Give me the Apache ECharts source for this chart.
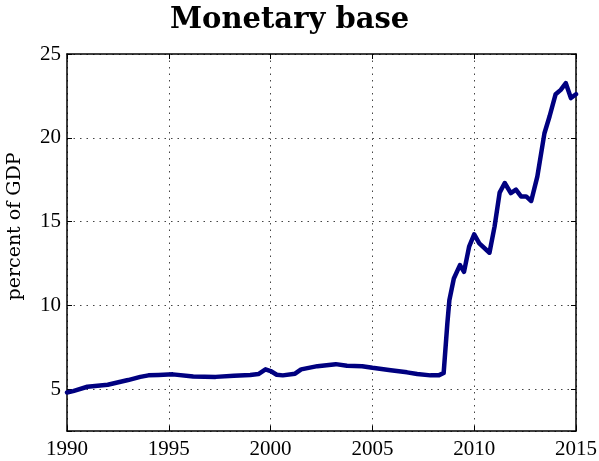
<!DOCTYPE html>
<html>
<head>
<meta charset="utf-8">
<script src="https://cdn.jsdelivr.net/npm/echarts@6/dist/echarts.min.js"></script>
<style>
  html, body { margin: 0; padding: 0; background: #fff; }
  #main { width: 599px; height: 461px; }
</style>
</head>
<body>
<div id="main"></div>
<script type="text/javascript">
// monetary base, percent of GDP
var years = [1990.0, 1990.3, 1991.0, 1992.0, 1993.0, 1993.6, 1994.0, 1994.5, 1995.2, 1996.2,
  1997.3, 1998.2, 1999.0, 1999.4, 1999.75, 2000.0, 2000.3, 2000.6, 2001.2, 2001.5,
  2002.3, 2003.2, 2003.75, 2004.5, 2005.0, 2005.9, 2006.7, 2007.2, 2007.85, 2008.25,
  2008.5, 2008.68, 2008.78, 2009.0, 2009.3, 2009.5, 2009.75, 2010.0, 2010.25, 2010.75,
  2011.0, 2011.25, 2011.5, 2011.8, 2012.05, 2012.3, 2012.55, 2012.8, 2013.1, 2013.45,
  2013.7, 2014.0, 2014.25, 2014.5, 2014.75, 2015.0];
var base = [4.8, 4.88, 5.14, 5.26, 5.54, 5.73, 5.82, 5.84, 5.88, 5.75,
  5.73, 5.8, 5.84, 5.9, 6.18, 6.08, 5.86, 5.82, 5.92, 6.18,
  6.37, 6.49, 6.39, 6.37, 6.27, 6.12, 6.0, 5.9, 5.82, 5.82,
  5.96, 8.9, 10.3, 11.6, 12.4, 12.0, 13.5, 14.24, 13.7, 13.14,
  14.7, 16.73, 17.3, 16.7, 16.9, 16.5, 16.5, 16.23, 17.68, 20.27,
  21.27, 22.6, 22.86, 23.26, 22.37, 22.6];
var xTicks = [1990, 1995, 2000, 2005, 2010, 2015];

var pts = [];
for (var i = 0; i < years.length; i++) {
  pts.push([years[i], base[i]]);
}

var serif = '"Liberation Serif", "Times New Roman", serif';
var myChart = echarts.init(document.getElementById('main'));
myChart.setOption({
  animation: false,
  title: {
    text: 'Monetary base',
    left: 165,
    top: 1,
    textStyle: { fontFamily: '"DejaVu Serif", serif', fontWeight: 'bold', fontSize: 29, color: '#000' }
  },
  grid: { left: 67, right: 23, top: 54, bottom: 30, outerBoundsMode: 'none' },
  xAxis: [{
    type: 'value',
    min: 1990, max: 2015, interval: 5,
    axisLine: { lineStyle: { color: '#000', width: 1.5 } },
    axisTick: { inside: true, length: 5, lineStyle: { color: '#000' } },
    axisLabel: {
      margin: 8, color: '#000', fontFamily: serif, fontSize: 21,
      formatter: function (v) { return xTicks.indexOf(v) >= 0 ? String(v) : ''; }
    },
    splitLine: { show: true, lineStyle: { color: '#444', type: [1.5, 5], width: 1 } }
  }, {
    type: 'value', position: 'top',
    min: 1990, max: 2015, interval: 5,
    axisLine: { lineStyle: { color: '#000', width: 1.5 } },
    axisTick: { inside: true, length: 5, lineStyle: { color: '#000' } },
    axisLabel: { show: false },
    splitLine: { show: false }
  }],
  yAxis: [{
    type: 'value',
    min: 2.5, max: 25, splitNumber: 5,
    name: 'percent of GDP',
    nameLocation: 'middle',
    nameGap: 42,
    nameTextStyle: { fontFamily: '"DejaVu Serif", serif', fontSize: 19, color: '#000', padding: [0, 0, 0, 32] },
    axisLine: { show: true, lineStyle: { color: '#000', width: 1.5 } },
    axisTick: { show: true, inside: true, length: 5, lineStyle: { color: '#000' } },
    axisLabel: {
      margin: 6, color: '#000', fontFamily: serif, fontSize: 21,
      formatter: function (v) { return v % 5 === 0 ? String(v) : ''; }
    },
    splitLine: { show: true, lineStyle: { color: '#444', type: [1.5, 5], width: 1 } }
  }, {
    type: 'value', position: 'right',
    min: 2.5, max: 25, splitNumber: 5,
    axisLine: { show: true, lineStyle: { color: '#000', width: 1.5 } },
    axisTick: { show: true, inside: true, length: 5, lineStyle: { color: '#000' } },
    axisLabel: { show: false },
    splitLine: { show: false }
  }],
  series: [{
    type: 'line',
    data: pts,
    showSymbol: false,
    lineStyle: { color: '#000080', width: 4.5, join: 'round', cap: 'round' }
  }]
});
</script>
</body>
</html>
